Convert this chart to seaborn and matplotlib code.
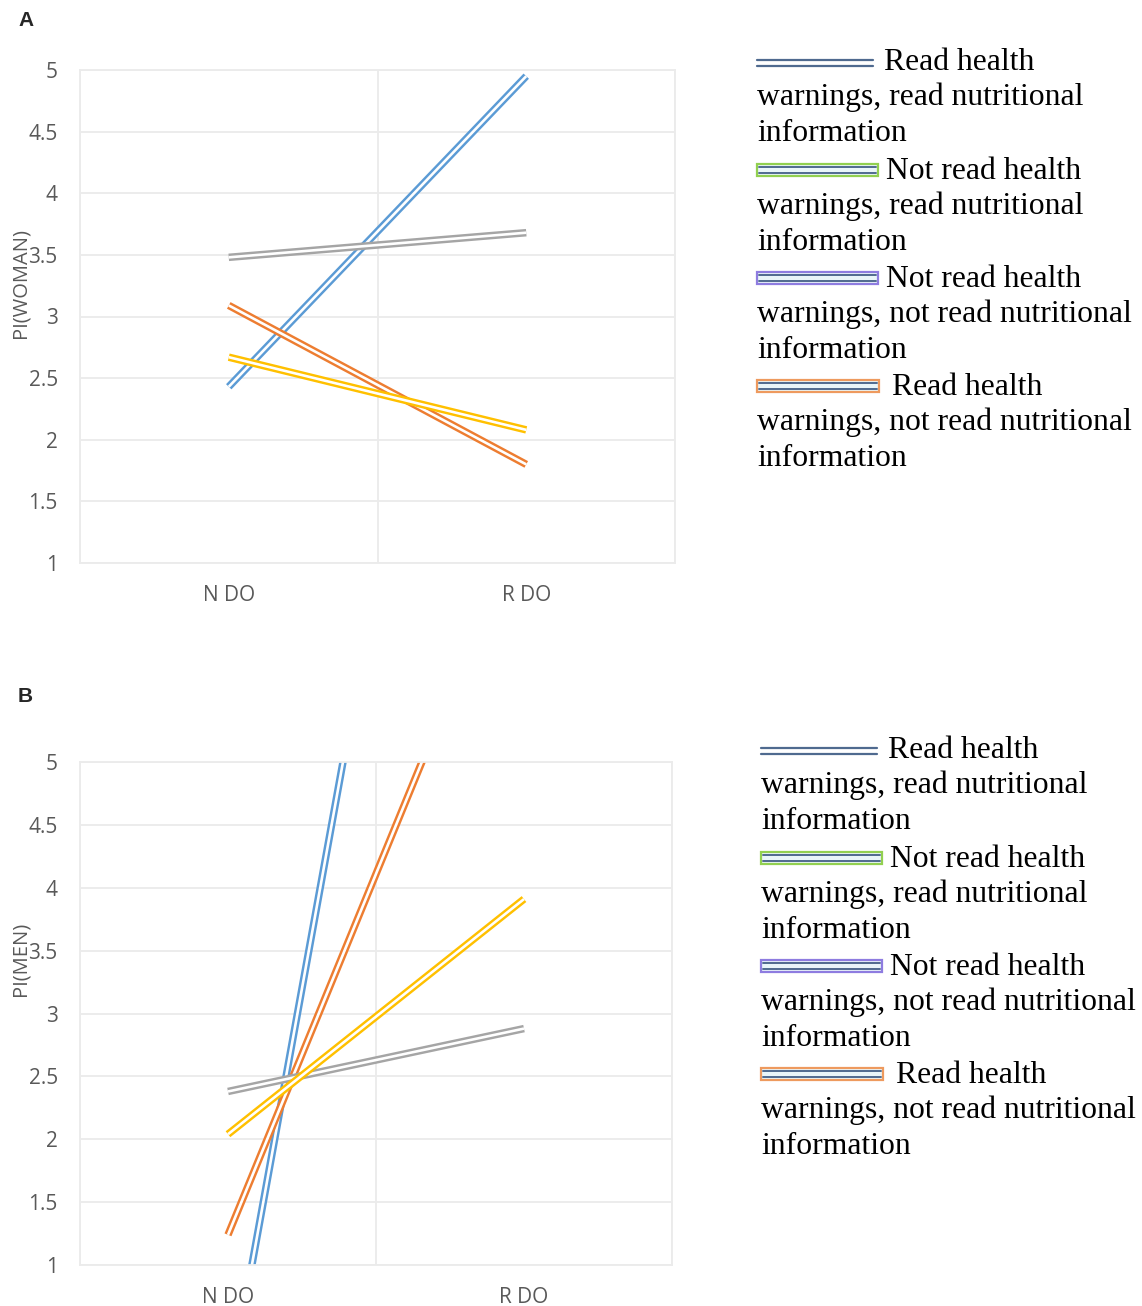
import numpy as np
import pandas as pd
import seaborn as sns
import matplotlib.pyplot as plt
import matplotlib.patheffects as pe
from matplotlib.lines import Line2D
from matplotlib.patches import Rectangle
from matplotlib.ticker import FuncFormatter

sns.set_theme(style="white")
plt.rcParams['font.family'] = ['Open Sans', 'DejaVu Sans']

# Data
categories = ["N DO", "R DO"]
groups = ["Read health warnings, read nutritional information",
          "Not read health warnings, read nutritional information",
          "Not read health warnings, not read nutritional information",
          "Read health warnings, not read nutritional information"]
line_colors = ["#5B9BD5", "#ED7D31", "#A5A5A5", "#FFC000"]

women_rh_rn = [2.43, 4.95]
women_nrh_rn = [3.09, 1.80]
women_nrh_nrn = [3.48, 3.68]
women_rh_nrn = [2.67, 2.08]

men_rh_rn = [-0.05, 12.95]
men_nrh_rn = [1.24, 6.98]
men_nrh_nrn = [2.38, 2.88]
men_rh_nrn = [2.04, 3.91]

yticks = [1, 1.5, 2, 2.5, 3, 3.5, 4, 4.5, 5]

# legend: first line, rest of label, box colour of the marker
legend_first = ["Read health", "Not read health", "Not read health", "Read health"]
legend_rest = ["warnings, read nutritional", "warnings, read nutritional",
               "warnings, not read nutritional", "warnings, not read nutritional"]
legend_box = [None, "#92D050", "#8E7CE0", "#EE9A5E"]

W, H = 1142, 1306
GRID = "#EBEBEB"
TXT = "#595959"


def fx(x):
    return x / W


def fy(y):
    return 1 - y / H


def make_df(series):
    rows = []
    for g, vals in zip(groups, series):
        for c, v in zip(categories, vals):
            rows.append({"DO": c, "PI": v, "group": g})
    return pd.DataFrame(rows)


def draw_panel(ax, series, ylabel, label_y):
    df = make_df(series)
    sns.lineplot(data=df, x="DO", y="PI", hue="group", hue_order=groups,
                 palette=dict(zip(groups, line_colors)), ax=ax,
                 legend=False, sort=False, linewidth=1.9)
    # double (compound) line look
    for ln in ax.lines:
        col = ln.get_color()
        ln.set_color("white")
        ln.set_path_effects([pe.Stroke(linewidth=5.4, foreground=col), pe.Normal()])
        ln.set_solid_capstyle("butt")

    ax.set_xlim(-0.5, 1.5)
    ax.set_ylim(1, 5)
    ax.set_yticks(yticks)
    ax.yaxis.set_major_formatter(FuncFormatter(lambda v, p: f"{v:g}"))
    ax.set_xticks([-0.5, 0.5, 1.5], minor=True)
    ax.grid(axis="y", which="major", color=GRID, lw=1.3)
    ax.grid(axis="x", which="minor", color=GRID, lw=1.3)
    ax.grid(axis="x", which="major", visible=False)
    for s in ax.spines.values():
        s.set_color(GRID)
        s.set_linewidth(1.3)
    ax.tick_params(axis="both", which="both", length=0, labelsize=15, labelcolor=TXT)
    ax.tick_params(axis="y", pad=16)
    ax.tick_params(axis="x", pad=16)
    ax.set_xlabel("")
    ax.set_ylabel(ylabel, fontsize=14.5, color=TXT)
    ax.yaxis.set_label_coords(-0.084, label_y)


def draw_legend(fig, dx, dy):
    base = [70, 179, 287, 395]
    text_x = [884, 886, 886, 892]
    for i in range(4):
        b = base[i] + dy
        x0 = 757 + dx
        if legend_box[i] is None:
            x1 = 873 + dx
            yc = b - 7
            for off in (-3, 3):
                fig.add_artist(Line2D([fx(x0), fx(x1)], [fy(yc + off), fy(yc + off)],
                                      color="#4F6A8F", lw=1.6, transform=fig.transFigure))
        else:
            x1 = 878 + dx + (1 if i == 3 else 0)
            yc = b - 9
            fig.add_artist(Rectangle((fx(x0), fy(yc + 6)), fx(x1 - x0), 12 / H,
                                     facecolor="#E9F5F9", edgecolor=legend_box[i],
                                     lw=1.6, transform=fig.transFigure))
            for off in (-3, 3):
                fig.add_artist(Line2D([fx(x0 + 2), fx(x1 - 2)], [fy(yc + off), fy(yc + off)],
                                      color="#4F6A8F", lw=1.4, transform=fig.transFigure))
        kw = dict(fontsize=22.8, family=["Liberation Serif", "DejaVu Serif"],
                  color="black", va="baseline", ha="left")
        fig.text(fx(text_x[i] + dx), fy(b), legend_first[i], **kw)
        fig.text(fx(x0), fy(b + 35), legend_rest[i], **kw)
        fig.text(fx(x0), fy(b + 71), "information", **kw)


fig = plt.figure(figsize=(W / 100, H / 100), dpi=100)
ax_a = fig.add_axes([fx(80), fy(563), fx(595), 493 / H])
ax_b = fig.add_axes([fx(80), fy(1265), fx(592), 503 / H])

draw_panel(ax_a, [women_rh_rn, women_nrh_rn, women_nrh_nrn, women_rh_nrn], "PI(WOMAN)", 0.568)
draw_panel(ax_b, [men_rh_rn, men_nrh_rn, men_nrh_nrn, men_rh_nrn], "PI(MEN)", 0.608)

draw_legend(fig, 0, 0)
draw_legend(fig, 4, 688)

fig.text(fx(18), fy(20), "A", fontsize=15, weight="bold",
         family=["Liberation Sans", "DejaVu Sans"], va="center", ha="left")
fig.text(fx(18), fy(696), "B", fontsize=15, weight="bold",
         family=["Liberation Sans", "DejaVu Sans"], va="center", ha="left")

fig.savefig("out.png", dpi=100)
